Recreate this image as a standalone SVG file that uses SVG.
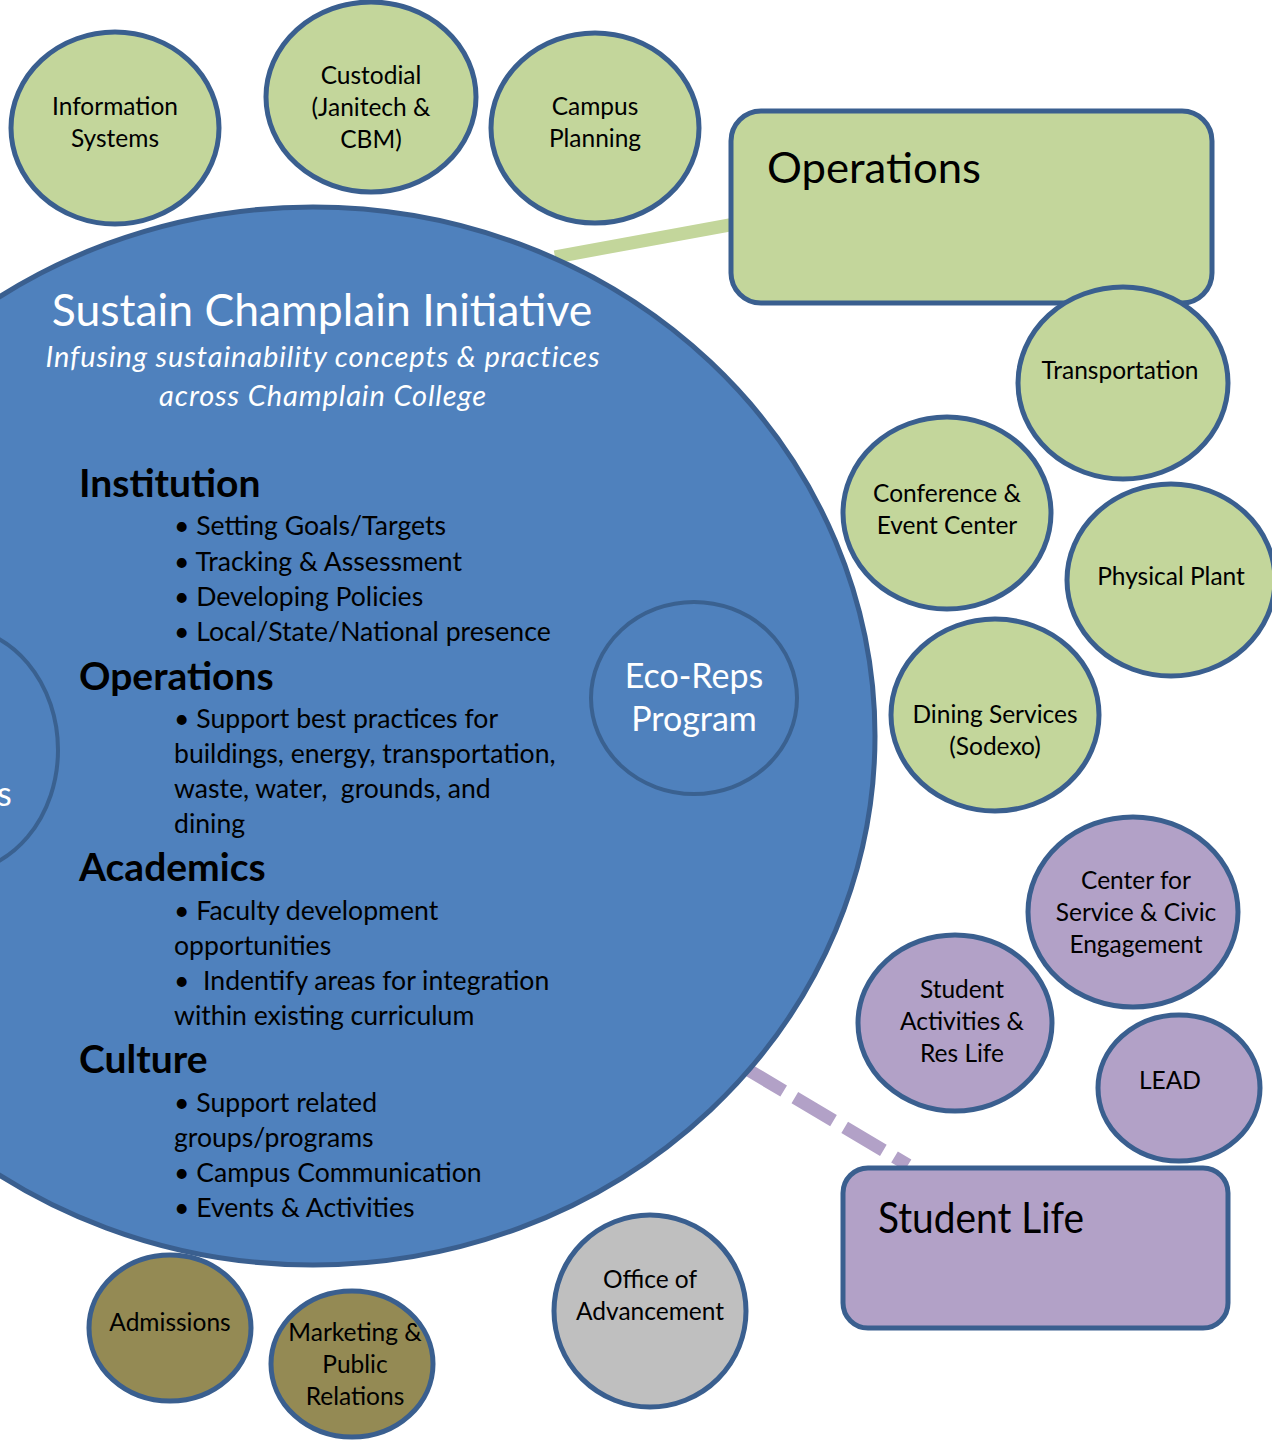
<svg xmlns="http://www.w3.org/2000/svg" width="1272" height="1440" viewBox="0 0 1272 1440">
<style>
text { font-family: Lato, "Open Sans", "Liberation Sans", sans-serif; }
.node { stroke: #3A5F8F; stroke-width: 5; }
.green { fill: #C3D69B; }
.purple { fill: #B2A1C7; }
.olive { fill: #948A54; }
.gray { fill: #BFBFBF; }
.blue { fill: #4F81BD; }
.inner { fill: #4F81BD; stroke: #3A6190; stroke-width: 4; }
.lbl { font-size: 24.5px; fill: #000; text-anchor: middle; }
.wlbl { font-size: 34px; fill: #fff; text-anchor: middle; }
.head { font-size: 39px; font-weight: bold; fill: #000; }
.bul { font-size: 26.6px; fill: #000; white-space: pre; }
.big { font-size: 42px; fill: #000; }
.sub { font-size: 29px; fill: #fff; font-style: italic; text-anchor: middle; letter-spacing: 0.9px; }
</style>
<rect width="1272" height="1440" fill="#fff"/>

<g id="connectors">
  <line x1="555" y1="257" x2="735" y2="224" stroke="#C3D69B" stroke-width="13"/>
  <line x1="745" y1="1068" x2="908" y2="1165" stroke="#B2A1C7" stroke-width="13" stroke-dasharray="45 13"/>
</g>

<g id="sustain-champlain">
  <ellipse class="node blue" cx="313" cy="736" rx="562" ry="529"/>
  <text x="322" y="326" font-size="44.5" fill="#fff" text-anchor="middle">Sustain Champlain Initiative</text>
  <text class="sub" x="323" y="367">Infusing sustainability concepts &amp; practices</text>
  <text class="sub" x="323" y="406">across Champlain College</text>
  <text class="head" x="79" y="497">Institution</text>
  <text class="bul" x="174" y="535">• Setting Goals/Targets</text>
  <text class="bul" x="174" y="571">• Tracking &amp; Assessment</text>
  <text class="bul" x="174" y="606">• Developing Policies</text>
  <text class="bul" x="174" y="641">• Local/State/National presence</text>
  <text class="head" x="79" y="690">Operations</text>
  <text class="bul" x="174" y="728">• Support best practices for</text>
  <text class="bul" x="174" y="763">buildings, energy, transportation,</text>
  <text class="bul" x="174" y="798">waste, water,  grounds, and</text>
  <text class="bul" x="174" y="833">dining</text>
  <text class="head" x="79" y="881">Academics</text>
  <text class="bul" x="174" y="920">• Faculty development</text>
  <text class="bul" x="174" y="955">opportunities</text>
  <text class="bul" x="174" y="990">•  Indentify areas for integration</text>
  <text class="bul" x="174" y="1025">within existing curriculum</text>
  <text class="head" x="79" y="1073">Culture</text>
  <text class="bul" x="174" y="1112">• Support related</text>
  <text class="bul" x="174" y="1147">groups/programs</text>
  <text class="bul" x="174" y="1182">• Campus Communication</text>
  <text class="bul" x="174" y="1217">• Events &amp; Activities</text>
</g>

<g id="left-partial">
  <ellipse class="inner" cx="-46" cy="750" rx="104" ry="123"/>
  <text x="-3" y="806" font-size="34" fill="#fff">s</text>
</g>

<g id="eco-reps">
  <ellipse class="inner" cx="694" cy="698" rx="103" ry="96"/>
  <text class="wlbl" x="694" y="688">Eco-Reps</text>
  <text class="wlbl" x="694" y="731">Program</text>
</g>

<g id="information-systems">
  <ellipse class="node green" cx="115" cy="128" rx="104" ry="96"/>
  <text class="lbl" x="115" y="115">Information</text>
  <text class="lbl" x="115" y="147">Systems</text>
</g>

<g id="custodial">
  <ellipse class="node green" cx="371" cy="97" rx="105" ry="95"/>
  <text class="lbl" x="371" y="84">Custodial</text>
  <text class="lbl" x="371" y="116">(Janitech &amp;</text>
  <text class="lbl" x="371" y="148">CBM)</text>
</g>

<g id="campus-planning">
  <ellipse class="node green" cx="595" cy="128" rx="104" ry="95"/>
  <text class="lbl" x="595" y="115">Campus</text>
  <text class="lbl" x="595" y="147">Planning</text>
</g>

<g id="operations">
  <rect class="node green" x="731" y="111" width="481" height="192" rx="30"/>
  <text class="big" x="767" y="183" textLength="214" lengthAdjust="spacingAndGlyphs">Operations</text>
</g>

<g id="transportation">
  <ellipse class="node green" cx="1123" cy="383" rx="105" ry="96"/>
  <text class="lbl" x="1120" y="379">Transportation</text>
</g>

<g id="conference">
  <ellipse class="node green" cx="947" cy="513" rx="104" ry="96"/>
  <text class="lbl" x="947" y="502">Conference &amp;</text>
  <text class="lbl" x="947" y="534">Event Center</text>
</g>

<g id="physical-plant">
  <ellipse class="node green" cx="1171" cy="580" rx="104" ry="96"/>
  <text class="lbl" x="1171" y="585">Physical Plant</text>
</g>

<g id="dining">
  <ellipse class="node green" cx="995" cy="715" rx="104" ry="96"/>
  <text class="lbl" x="995" y="723">Dining Services</text>
  <text class="lbl" x="995" y="755">(Sodexo)</text>
</g>

<g id="center-service">
  <ellipse class="node purple" cx="1133" cy="912" rx="105" ry="95"/>
  <text class="lbl" x="1136" y="889">Center for</text>
  <text class="lbl" x="1136" y="921">Service &amp; Civic</text>
  <text class="lbl" x="1136" y="953">Engagement</text>
</g>

<g id="student-activities">
  <ellipse class="node purple" cx="955" cy="1023" rx="97" ry="88"/>
  <text class="lbl" x="962" y="998">Student</text>
  <text class="lbl" x="962" y="1030">Activities &amp;</text>
  <text class="lbl" x="962" y="1062">Res Life</text>
</g>

<g id="lead">
  <ellipse class="node purple" cx="1179" cy="1088" rx="81" ry="73"/>
  <text class="lbl" x="1170" y="1089">LEAD</text>
</g>

<g id="student-life">
  <rect class="node purple" x="843" y="1168" width="385" height="160" rx="25"/>
  <text class="big" x="878" y="1233" textLength="206" lengthAdjust="spacingAndGlyphs">Student Life</text>
</g>

<g id="office-advancement">
  <ellipse class="node gray" cx="650" cy="1311" rx="96" ry="96"/>
  <text class="lbl" x="650" y="1288">Office of</text>
  <text class="lbl" x="650" y="1320">Advancement</text>
</g>

<g id="admissions">
  <ellipse class="node olive" cx="170" cy="1328" rx="81" ry="73"/>
  <text class="lbl" x="170" y="1331">Admissions</text>
</g>

<g id="marketing">
  <ellipse class="node olive" cx="352" cy="1364" rx="81" ry="73"/>
  <text class="lbl" x="355" y="1341">Marketing &amp;</text>
  <text class="lbl" x="355" y="1373">Public</text>
  <text class="lbl" x="355" y="1405">Relations</text>
</g>
</svg>
